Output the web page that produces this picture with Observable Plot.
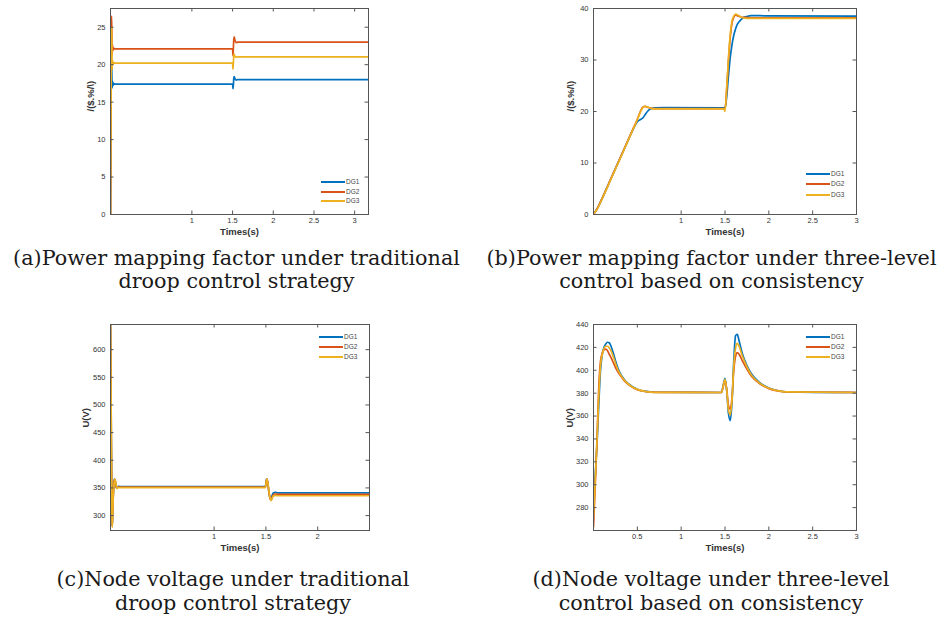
<!DOCTYPE html>
<html><head><meta charset="utf-8">
<script src="https://cdn.jsdelivr.net/npm/d3@7"></script>
<script src="https://cdn.jsdelivr.net/npm/@observablehq/plot@0.6"></script>
<style>
body{margin:0;background:#fff;}
#page{position:relative;width:949px;height:626px;overflow:hidden;background:#fff;}
.panel{position:absolute;}
.cap{position:absolute;font-family:"DejaVu Serif",serif;color:#1a1a1a;text-align:center;white-space:nowrap;line-height:23.5px;}
.lg{position:absolute;}
.lgt{position:absolute;font-family:"Liberation Sans",Arial,sans-serif;font-size:6.5px;color:#444;line-height:8px;}
</style></head>
<body><div id="page"></div>
<script>
const seriesNames = ["DG1", "DG2", "DG3"];
const seriesColors = ["#0072BD", "#D95319", "#EDB120"];

// (a) power mapping factor, traditional droop
const aTime = [0, 0.004, 0.008, 0.012, 0.016, 0.02, 0.025, 0.03, 0.04, 0.05, 0.07, 1.495, 1.5, 1.505, 1.51, 1.515, 1.52, 1.53, 1.545, 1.56, 1.6, 3.17];
const aDG1 = [0, 8, 16, 20.5, 19, 16.9, 17.8, 17.2, 17.5, 17.4, 17.4, 17.4, 17.4, 16.8, 17.3, 18.2, 18.4, 18.1, 17.95, 18.0, 18.0, 18.0];
const aDG2 = [0, 10, 19, 26.5, 25, 21.3, 22.6, 21.9, 22.2, 22.1, 22.1, 22.1, 22.1, 21.2, 22.3, 23.4, 23.7, 23.2, 22.95, 23.0, 23.0, 23.0];
const aDG3 = [0, 9, 17, 24, 25, 19.4, 20.6, 20.0, 20.3, 20.2, 20.2, 20.2, 20.2, 19.4, 20.3, 21.2, 21.4, 21.1, 21.0, 21.05, 21.05, 21.05];

// (b) power mapping factor, three-level consistency control
const bTime = [0, 0.05, 0.1, 0.2, 0.3, 0.4, 0.45, 0.5, 0.53, 0.56, 0.59, 0.62, 0.66, 0.7, 0.8, 1.49, 1.5, 1.52, 1.54, 1.56, 1.58, 1.6, 1.62, 1.64, 1.67, 1.7, 1.75, 1.8, 1.9, 2.0, 3.0];
const bDG1 = [0, 1.4, 3.2, 7.0, 10.8, 14.6, 16.5, 18.0, 18.4, 18.7, 19.4, 20.1, 20.6, 20.7, 20.75, 20.7, 20.7, 23.0, 27.0, 30.5, 33.0, 34.8, 36.0, 36.9, 37.6, 38.1, 38.45, 38.6, 38.6, 38.55, 38.5];
const bDG2 = [0, 1.4, 3.2, 7.0, 10.8, 14.7, 16.6, 18.5, 19.8, 20.8, 21.0, 20.8, 20.6, 20.55, 20.55, 20.55, 20.4, 24.5, 30.0, 34.5, 37.2, 38.3, 38.7, 38.6, 38.4, 38.3, 38.25, 38.2, 38.2, 38.2, 38.2];
const bDG3 = [0, 1.3, 3.1, 6.9, 10.7, 14.6, 16.5, 18.4, 19.7, 20.7, 21.0, 20.85, 20.6, 20.5, 20.5, 20.5, 20.0, 24.8, 30.5, 35.0, 37.6, 38.5, 38.9, 38.8, 38.5, 38.2, 38.1, 38.1, 38.1, 38.1, 38.1];

// (c) node voltage, traditional droop
const cTime = [0, 0.004, 0.008, 0.012, 0.016, 0.02, 0.026, 0.032, 0.038, 0.044, 0.05, 0.056, 0.064, 0.075, 0.09, 0.12, 1.495, 1.5, 1.505, 1.51, 1.52, 1.53, 1.54, 1.55, 1.56, 1.57, 1.59, 1.62, 2.5];
const cDG1 = [645, 560, 430, 330, 282, 300, 335, 358, 366, 364, 356, 350, 351, 353, 352.5, 352.5, 352.5, 358, 365, 366, 356, 341, 332, 331, 336, 341, 342, 341, 341];
const cDG2 = [645, 562, 432, 332, 280, 298, 333, 356, 365, 365, 358, 351, 350, 352, 351.5, 351.5, 351.5, 357, 364, 366, 357, 341, 331, 328, 333, 337, 339, 338.3, 338.3];
const cDG3 = [645, 565, 436, 335, 279, 294, 328, 352, 363, 366, 360, 353, 349, 351, 350.5, 350.5, 350.5, 356, 363, 366, 358, 343, 332, 327, 331, 335, 336.5, 335.8, 335.8];

// (d) node voltage, three-level consistency control
const dTime = [0, 0.02, 0.04, 0.06, 0.08, 0.1, 0.12, 0.14, 0.16, 0.18, 0.2, 0.23, 0.26, 0.3, 0.35, 0.4, 0.45, 0.5, 0.6, 0.7, 1.46, 1.48, 1.5, 1.52, 1.54, 1.56, 1.58, 1.6, 1.62, 1.64, 1.66, 1.7, 1.75, 1.8, 1.9, 2.0, 2.1, 2.2, 3.0];
const dDG1 = [285, 308, 335, 370, 400, 414, 420, 423, 424.5, 424, 421, 414, 406, 398, 392, 388, 385.5, 383.5, 381.5, 380.8, 380.6, 387, 393, 382, 362, 356, 372, 408, 430, 431.5, 426, 414, 404, 397, 389, 384.5, 382.3, 381.2, 380.6];
const dDG2 = [263, 300, 340, 385, 408, 415, 418, 418.5, 417, 414, 411, 406, 401, 396, 391, 387.5, 385, 383, 381.3, 380.7, 380.6, 386, 391, 383, 369, 366, 376, 400, 412, 415.5, 414, 408, 401, 395, 388, 384, 382, 381, 380.6];
const dDG3 = [272, 304, 338, 378, 404, 414, 419, 421, 421, 419.5, 417, 411, 404, 397, 391.5, 387.8, 385.2, 383.3, 381.4, 380.7, 380.6, 386.5, 392, 382, 365, 361, 374, 404, 419, 423.5, 421, 412, 403, 396, 388.5, 384.3, 382.2, 381.1, 380.6];

// axis ticks and labels
const aXTicks = [1, 1.5, 2, 2.5, 3];
const aYTicks = [0, 5, 10, 15, 20, 25];
const bXTicks = [1, 1.5, 2, 2.5, 3];
const bYTicks = [0, 10, 20, 30, 40];
const cXTicks = [1, 1.5, 2];
const cYTicks = [300, 350, 400, 450, 500, 550, 600];
const dXTicks = [0.5, 1, 1.5, 2, 2.5, 3];
const dYTicks = [280, 300, 320, 340, 360, 380, 400, 420, 440];
const xLabel = "Times(s)";
const powerLabel = "/($.%/\\)";
const voltLabel = "U(V)";
const captions = [
  ["(a)Power mapping factor under traditional", "droop control strategy"],
  ["(b)Power mapping factor under three-level", "control based on consistency"],
  ["(c)Node voltage under traditional", "droop control strategy"],
  ["(d)Node voltage under three-level", "control based on consistency"]
];

function rows(time, s1, s2, s3) {
  const out = [];
  [s1, s2, s3].forEach((vals, i) => vals.forEach((v, j) => out.push({t: time[j], v, s: seriesNames[i]})));
  return out;
}

const page = document.getElementById("page");
const fmt = d => String(d);

function panel({left, top, width, ml, mr, data, xDomain, yDomain, xTicks, topTicks, yTicks, yLabel, yLabelDx}) {
  const height = 245, mt = 8, mb = 31;
  const fh = height - mt - mb, fw = width - ml - mr;
  const axisColor = "#555";
  const chart = Plot.plot({
    width, height, marginTop: mt, marginBottom: mb, marginLeft: ml, marginRight: mr,
    style: {fontFamily: "'Liberation Sans', Arial, sans-serif", fontSize: "7.5px", background: "transparent", color: "#333"},
    x: {domain: xDomain},
    y: {domain: yDomain},
    color: {domain: seriesNames, range: seriesColors},
    marks: [
      Plot.line(data, {x: "t", y: "v", z: "s", stroke: "s", strokeWidth: 1.7, curve: "monotone-x", clip: true}),
      Plot.frame({stroke: axisColor, strokeWidth: 1}),
      Plot.tickX(topTicks, {x: d => d, insetTop: fh - 3.5, stroke: axisColor}),
      Plot.tickX(topTicks, {x: d => d, insetBottom: fh - 3.5, stroke: axisColor}),
      Plot.tickY(yTicks, {y: d => d, insetRight: fw - 3.5, stroke: axisColor}),
      Plot.tickY(yTicks, {y: d => d, insetLeft: fw - 3.5, stroke: axisColor}),
      Plot.axisX(xTicks, {tickSize: 0, tickPadding: 3.5, tickFormat: fmt, label: null, fill: "#333", fontSize: 7.5}),
      Plot.axisY(yTicks, {tickSize: 0, tickPadding: 5, tickFormat: fmt, label: null, fill: "#333", fontSize: 7.5}),
      Plot.text([xLabel], {frameAnchor: "bottom", dy: 20, fontSize: 9.5, fontWeight: "bold", fill: "#333"}),
      Plot.text([yLabel], {frameAnchor: "left", dx: yLabelDx, rotate: -90, fontSize: 9.5, fontWeight: "bold", fill: "#333"})
    ]
  });
  chart.classList.add("panel");
  chart.style.left = left + "px";
  chart.style.top = top + "px";
  page.appendChild(chart);
}

panel({left: 0, top: 0, width: 475, ml: 110, mr: 107, data: rows(aTime, aDG1, aDG2, aDG3),
  xDomain: [0, 3.17], yDomain: [0, 27.5], xTicks: aXTicks, topTicks: aXTicks, yTicks: aYTicks, yLabel: powerLabel, yLabelDx: -20});
panel({left: 475, top: 0, width: 474, ml: 118, mr: 93, data: rows(bTime, bDG1, bDG2, bDG3),
  xDomain: [0, 3], yDomain: [0, 40], xTicks: bXTicks, topTicks: bXTicks, yTicks: bYTicks, yLabel: powerLabel, yLabelDx: -23});
panel({left: 0, top: 316, width: 475, ml: 110, mr: 106, data: rows(cTime, cDG1, cDG2, cDG3),
  xDomain: [0, 2.5], yDomain: [273, 645.5], xTicks: cXTicks, topTicks: cXTicks, yTicks: cYTicks, yLabel: voltLabel, yLabelDx: -25});
panel({left: 475, top: 316, width: 474, ml: 118, mr: 93, data: rows(dTime, dDG1, dDG2, dDG3),
  xDomain: [0, 3], yDomain: [260, 440], xTicks: dXTicks, topTicks: dXTicks, yTicks: dYTicks, yLabel: voltLabel, yLabelDx: -24});

// legends
function legend(x, ys) {
  ys.forEach((y, i) => {
    const ln = document.createElement("div");
    ln.className = "lg";
    ln.style.cssText = `left:${x}px;top:${Math.round(y) - 1}px;width:24px;height:2px;background:${seriesColors[i]};`;
    page.appendChild(ln);
    const tx = document.createElement("div");
    tx.className = "lgt";
    tx.style.left = (x + 25) + "px";
    tx.style.top = (Math.round(y) - 4) + "px";
    tx.textContent = seriesNames[i];
    page.appendChild(tx);
  });
}
legend(321, [182, 192, 201]);
legend(806, [174, 184, 195]);
legend(319, [337, 347, 357]);
legend(806, [337, 347, 357]);

// captions
const ctx = document.createElement("canvas").getContext("2d");
ctx.font = "100px 'DejaVu Serif'";
const capSize = 100 * 447 / ctx.measureText(captions[0][0]).width;
function caption(lines, cx, top) {
  const d = document.createElement("div");
  d.className = "cap";
  d.style.fontSize = capSize + "px";
  d.style.left = (cx - 240) + "px";
  d.style.width = "480px";
  d.style.top = top + "px";
  d.innerHTML = lines.map(l => `<div>${l}</div>`).join("");
  page.appendChild(d);
}
caption(captions[0], 236.5, 246.5);
caption(captions[1], 711.5, 246.5);
caption(captions[2], 233, 568);
caption(captions[3], 711, 568);
</script></body></html>
